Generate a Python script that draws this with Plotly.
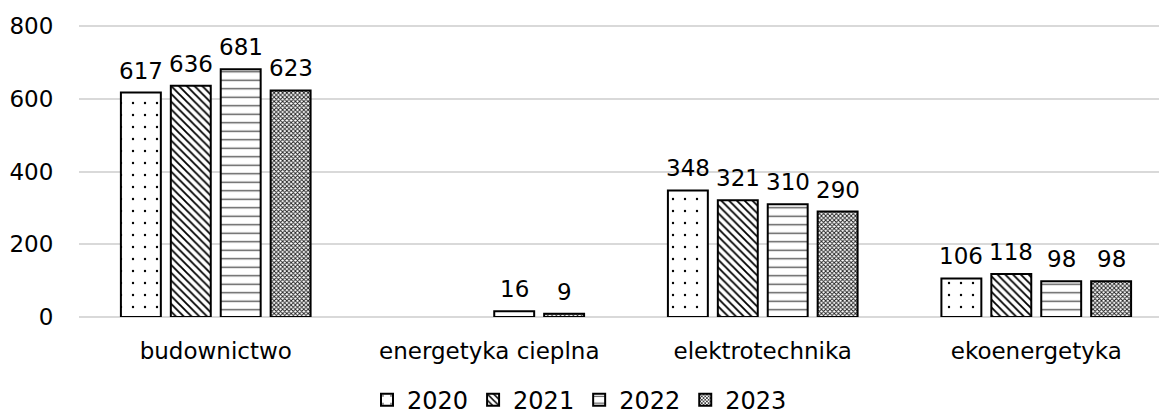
import plotly.graph_objects as go

categories = ["budownictwo", "energetyka cieplna", "elektrotechnika", "ekoenergetyka"]
years = ["2020", "2021", "2022", "2023"]
v2020 = [617, None, 348, 106]
v2021 = [636, None, 321, 118]
v2022 = [681, 16, 310, 98]
v2023 = [623, 9, 290, 98]
y_ticks = [0, 200, 400, 600, 800]

series = [v2020, v2021, v2022, v2023]
patterns = [
    dict(shape=".", size=12, solidity=0.03, fgcolor="black", bgcolor="white", fillmode="replace"),
    dict(shape="\\", size=5.5, solidity=0.33, fgcolor="black", bgcolor="white", fillmode="replace"),
    dict(shape="-", size=8.5, solidity=0.16, fgcolor="#555555", bgcolor="white", fillmode="replace"),
    dict(shape="x", size=3, solidity=0.5, fgcolor="#1a1a1a", bgcolor="white", fillmode="replace"),
]

FONT = "DejaVu Sans, sans-serif"
FS = 23
shifts = [-75, -25, 25, 75]

fig = go.Figure()
for name, vals, pat, sh in zip(years, series, patterns, shifts):
    fig.add_trace(go.Bar(
        name=name,
        x=categories,
        y=vals,
        marker=dict(color="white", line=dict(color="black", width=2), pattern=pat),
    ))
    for c, v in zip(categories, vals):
        if v is None:
            continue
        fig.add_annotation(x=c, y=v, text=str(v), showarrow=False,
                           xshift=sh, yshift=7, yanchor="bottom",
                           font=dict(family=FONT, size=FS, color="black"))

fig.update_layout(
    width=1159, height=419,
    margin=dict(l=79, r=0, t=25, b=102, autoexpand=False),
    paper_bgcolor="white", plot_bgcolor="white",
    barmode="group", bargap=0.27, bargroupgap=0.2,
    font=dict(family=FONT, size=FS, color="black"),
    showlegend=True,
    legend=dict(orientation="h", xref="container", yref="container",
                x=0.5, xanchor="center", y=0.045, yanchor="middle",
                font=dict(family=FONT, size=24, color="black"),
                itemwidth=30, traceorder="normal"),
)
fig.update_xaxes(range=[-0.5, -0.5 + 1080 / 273.5], showgrid=False, showline=False,
                 automargin=False, ticks="outside", ticklen=13, tickcolor="rgba(0,0,0,0)",
                 tickfont=dict(family=FONT, size=FS, color="black"))
fig.update_yaxes(range=[0, 802.8], tickvals=y_ticks, showgrid=True, gridcolor="#d9d9d9",
                 gridwidth=1.5, zeroline=True, zerolinecolor="#d9d9d9", zerolinewidth=1.5,
                 showline=False, automargin=False, ticks="outside", ticklen=20,
                 tickcolor="rgba(0,0,0,0)",
                 tickfont=dict(family=FONT, size=FS, color="black"))

fig.write_html("out.html", config={"displayModeBar": False},
               post_script="document.body.style.margin='0';document.body.style.overflow='hidden';")
